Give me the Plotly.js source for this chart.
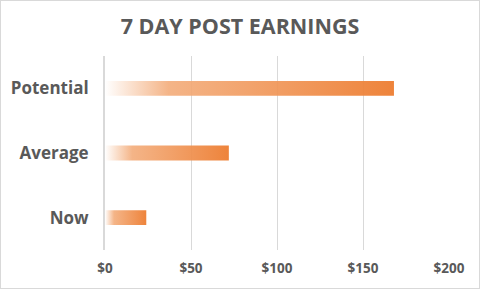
<!DOCTYPE html>
<html>
<head>
<meta charset="utf-8">
<script src="https://cdn.plot.ly/plotly-3.0.1.min.js"></script>
<style>
html,body{margin:0;padding:0;background:#fff;}
#wrap{position:relative;width:480px;height:289px;}
#chart{width:480px;height:289px;}
#frame{position:absolute;left:0;top:0;width:480px;height:289px;box-sizing:border-box;border:1px solid #D9D9D9;pointer-events:none;}
</style>
</head>
<body>
<div id="wrap"><div id="chart"></div><div id="frame"></div></div>
<script>
const categories = ['Now', 'Average', 'Potential'];
const values = [24, 72, 168];
const xTickVals = [0, 50, 100, 150, 200];
const xTickText = ['$0', '$50', '$100', '$150', '$200'];

const half = 0.115;
const grad = [[0, 'rgba(255,255,255,0.9)'], [0.22, 'rgba(243,172,122,0.9)'], [1, 'rgba(237,125,49,0.95)']];

const traces = values.map((v, i) => ({
  type: 'scatter',
  mode: 'none',
  x: [0, v, v, 0, 0],
  y: [i - half, i - half, i + half, i + half, i - half],
  fill: 'toself',
  fillgradient: {type: 'horizontal', colorscale: grad},
  hoverinfo: 'skip',
  showlegend: false
}));

const layout = {
  width: 480, height: 289,
  margin: {l: 105, r: 31, t: 56, b: 39},
  paper_bgcolor: '#fff', plot_bgcolor: '#fff',
  title: {text: '7 DAY POST EARNINGS', x: 0.5, xanchor: 'center', y: 0.91, yanchor: 'middle',
          font: {family: 'Open Sans', size: 21.5, color: '#595959', weight: 'bold'}},
  xaxis: {range: [0, 200], tickvals: xTickVals, ticktext: xTickText, showgrid: true,
          gridcolor: '#D9D9D9', gridwidth: 1, zeroline: false, showline: false, ticks: '',
          ticklabelstandoff: 8, fixedrange: true,
          tickfont: {family: 'Open Sans', size: 13.5, color: '#595959', weight: 'bold'}},
  yaxis: {range: [-0.5, 2.5], tickvals: [0, 1, 2], ticktext: categories, showgrid: false,
          zeroline: false, showline: true, linecolor: '#D9D9D9', linewidth: 2, ticks: '',
          ticklabelstandoff: 11, fixedrange: true,
          tickfont: {family: 'Open Sans', size: 17, color: '#595959', weight: 'bold'}}
};

Plotly.newPlot('chart', traces, layout, {displayModeBar: false, staticPlot: true});
</script>
</body>
</html>
